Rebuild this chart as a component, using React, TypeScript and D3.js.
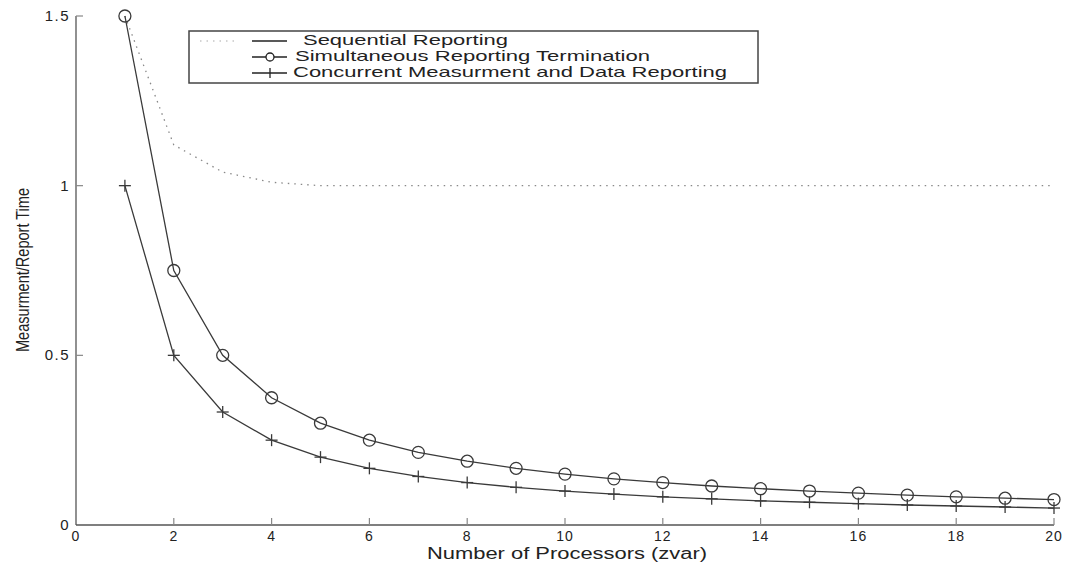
import React from "react";
import * as d3 from "d3";

const processors = [1, 2, 3, 4, 5, 6, 7, 8, 9, 10, 11, 12, 13, 14, 15, 16, 17, 18, 19, 20];
const sequential = [1.5, 1.12, 1.04, 1.01, 1.0, 1.0, 1.0, 1.0, 1.0, 1.0, 1.0, 1.0, 1.0, 1.0, 1.0, 1.0, 1.0, 1.0, 1.0, 1.0];
const simultaneous = [1.5, 0.75, 0.5, 0.375, 0.3, 0.25, 0.214, 0.188, 0.167, 0.15, 0.136, 0.125, 0.115, 0.107, 0.1, 0.094, 0.088, 0.083, 0.079, 0.075];
const concurrent = [1.0, 0.5, 0.333, 0.25, 0.2, 0.167, 0.143, 0.125, 0.111, 0.1, 0.091, 0.083, 0.077, 0.071, 0.067, 0.063, 0.059, 0.056, 0.053, 0.05];
const xTicks = [0, 2, 4, 6, 8, 10, 12, 14, 16, 18, 20];
const yTicks = [0, 0.5, 1, 1.5];
const yTickLabels = ["0", "0.5", "1", "1.5"];
const legendLabels = [
  "Sequential Reporting",
  "Simultaneous Reporting Termination",
  "Concurrent Measurment and Data Reporting",
];
const xTitle = "Number of Processors (zvar)";
const yTitle = "Measurment/Report Time";

const W = 1067;
const H = 566;
const FONT = "'Liberation Sans', Arial, Helvetica, sans-serif";
const LINE = "#3a3a3a";

export default function App() {
  const x = d3.scaleLinear().domain([0, 20]).range([76, 1054]);
  const y = d3.scaleLinear().domain([0, 1.5]).range([525, 16]);
  const line = d3
    .line<number>()
    .x((_, i) => x(processors[i]))
    .y((d) => y(d));

  const legendRowsY = [41, 57, 73];
  const legendTextX = [303, 295, 293];
  const legendTextW = [205, 355, 434];

  return (
    <svg
      width={W}
      height={H}
      style={{ position: "absolute", left: 0, top: 0, background: "#fff" }}
      fontFamily={FONT}
    >
      <rect x={0} y={0} width={W} height={H} fill="#fff" />
      {/* axes */}
      <line x1={x(0)} x2={x(0)} y1={y(1.5)} y2={y(0)} stroke="#555" strokeWidth={1.3} />
      <line x1={x(0)} x2={x(20)} y1={y(0)} y2={y(0)} stroke="#555" strokeWidth={1.3} />
      {xTicks.map((t) => (
        <g key={"xt" + t}>
          {t > 0 && (
            <line x1={x(t)} x2={x(t)} y1={y(0)} y2={y(0) - 7} stroke="#888" strokeWidth={1.2} />
          )}
          <text
            x={x(t)}
            y={537}
            textAnchor="middle"
            dominantBaseline="middle"
            fontSize={14}
            fill="#222"
            letterSpacing={1}
          >
            {t}
          </text>
        </g>
      ))}
      {yTicks.map((t, i) => (
        <g key={"yt" + t}>
          {t > 0 && (
            <line x1={x(0)} x2={x(0) + 7} y1={y(t)} y2={y(t)} stroke="#888" strokeWidth={1.2} />
          )}
          <text
            x={70}
            y={y(t) + 1}
            textAnchor="end"
            dominantBaseline="middle"
            fontSize={15}
            fill="#222"
            letterSpacing={1.5}
          >
            {yTickLabels[i]}
          </text>
        </g>
      ))}
      {/* titles */}
      <text
        x={427}
        y={555}
        dominantBaseline="middle"
        fontSize={16}
        fill="#222"
        textLength={280}
        lengthAdjust="spacingAndGlyphs"
      >
        {xTitle}
      </text>
      <text
        transform={`translate(24,${352}) rotate(-90)`}
        dominantBaseline="middle"
        fontSize={18}
        fill="#222"
        textLength={164}
        lengthAdjust="spacingAndGlyphs"
      >
        {yTitle}
      </text>

      {/* series */}
      <path d={line(sequential) || ""} fill="none" stroke="#888" strokeWidth={1.3} strokeDasharray="1.5,5" />
      <path d={line(simultaneous) || ""} fill="none" stroke={LINE} strokeWidth={1.3} />
      <path d={line(concurrent) || ""} fill="none" stroke={LINE} strokeWidth={1.3} />
      {simultaneous.map((v, i) => (
        <circle key={"c" + i} cx={x(processors[i])} cy={y(v)} r={6} fill="none" stroke={LINE} strokeWidth={1.3} />
      ))}
      {concurrent.map((v, i) => (
        <g key={"p" + i} stroke={LINE} strokeWidth={1.3}>
          <line x1={x(processors[i]) - 6} x2={x(processors[i]) + 6} y1={y(v)} y2={y(v)} />
          <line x1={x(processors[i])} x2={x(processors[i])} y1={y(v) - 6} y2={y(v) + 6} />
        </g>
      ))}

      {/* legend */}
      <rect x={189} y={31} width={569} height={52} fill="#fff" stroke="#444" strokeWidth={1.5} />
      <line x1={200} x2={234} y1={legendRowsY[0]} y2={legendRowsY[0]} stroke="#aaa" strokeWidth={1.2} strokeDasharray="1.5,5" />
      <line x1={252} x2={287} y1={legendRowsY[0]} y2={legendRowsY[0]} stroke="#222" strokeWidth={1.3} />
      <line x1={252} x2={287} y1={legendRowsY[1]} y2={legendRowsY[1]} stroke="#222" strokeWidth={1.3} />
      <circle cx={270} cy={legendRowsY[1]} r={4} fill="#fff" stroke="#222" strokeWidth={1.3} />
      <line x1={252} x2={287} y1={legendRowsY[2]} y2={legendRowsY[2]} stroke="#222" strokeWidth={1.3} />
      <line x1={270} x2={270} y1={legendRowsY[2] - 5} y2={legendRowsY[2] + 5} stroke="#222" strokeWidth={1.3} />
      {legendLabels.map((l, i) => (
        <text
          key={l}
          x={legendTextX[i]}
          y={legendRowsY[i]}
          dominantBaseline="middle"
          fontSize={15}
          fill="#222"
          textLength={legendTextW[i]}
          lengthAdjust="spacingAndGlyphs"
        >
          {l}
        </text>
      ))}
    </svg>
  );
}
